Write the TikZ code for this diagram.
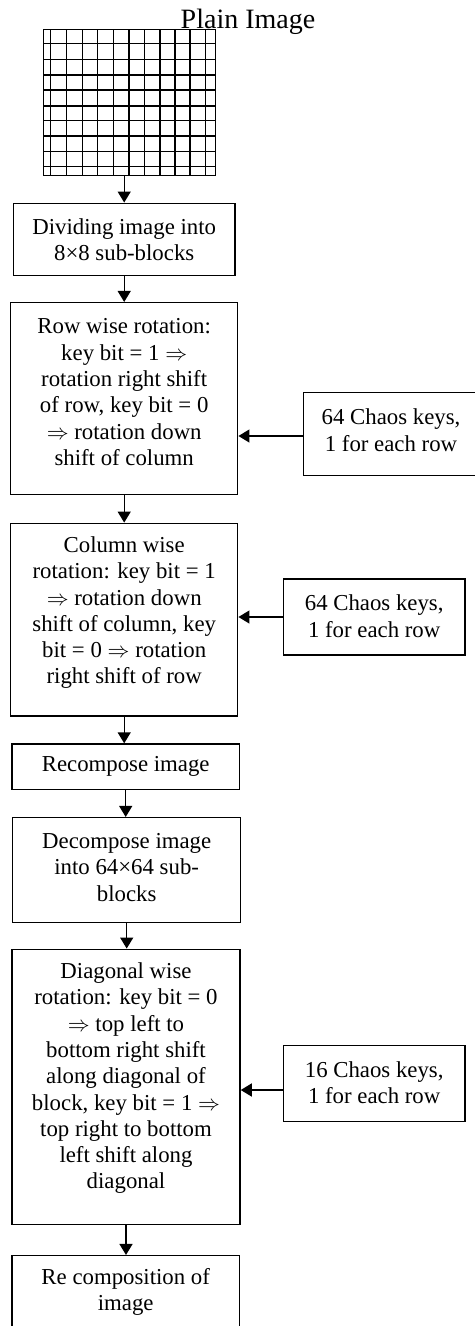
\documentclass[tikz,border=0pt]{standalone}
\usepackage{fontspec}
\setmainfont{Liberation Serif}
\usetikzlibrary{arrows.meta}
\begin{document}
\begin{tikzpicture}[x=0.5pt,y=-0.5pt,
  box/.style={draw,line width=0.75pt,inner sep=0pt},
  gridline/.style={line width=0.75pt},
  txt/.style={align=center,font=\fontsize{11.4}{13.15}\selectfont,inner sep=0pt},
  flow/.style={-{Triangle[length=5.5pt,width=6.5pt]},line width=0.7pt}]
\useasboundingbox (0,0) rectangle (475,1326);

% plain image drawn as a pixel grid
\node[box, minimum width=86.2pt, minimum height=73.2pt] (img) at (129.5,102.5) {};
\foreach \gx in {50.7,66.7,82.3,97.7,113.3,129,144.3,160,175,190,205.7}
  \draw[gridline] (\gx,29.3) -- (\gx,175.7);
\foreach \gy in {43.3,59.3,75,90,106,120.7,136,151.7,166.7}
  \draw[gridline] (43.3,\gy) -- (215.7,\gy);
\node[anchor=base, font=\fontsize{14}{16}\selectfont, inner sep=0pt] (title) at (248,28.3) {Plain Image};

% main processing chain
\node[box, minimum width=110.85pt, minimum height=36.2pt] (b1) at (124.2,239.5) {};
\node[txt] (t1) at (124.2,239.7) {Dividing image into\\8×8 sub-blocks};

\node[box, minimum width=113.5pt, minimum height=95.8pt] (b2) at (124.2,398.5) {};
\node[txt] (t2) at (124.2,392.3) {Row wise rotation:\\key bit = 1 $\Rightarrow$\\rotation right shift\\of row, key bit = 0\\$\Rightarrow$ rotation down\\shift of column};

\node[box, minimum width=113.5pt, minimum height=96.35pt] (b3) at (124.2,619.7) {};
\node[txt] (t3) at (124.2,612.7) {Column wise\\rotation: key bit = 1\\$\Rightarrow$ rotation down\\shift of column, key\\bit = 0 $\Rightarrow$ rotation\\right shift of row};

\node[box, minimum width=113.65pt, minimum height=22.65pt] (b4) at (125.7,766.7) {};
\node[txt] (t4) at (125.7,766.7) {Recompose image};

\node[box, minimum width=114pt, minimum height=52.3pt] (b5) at (126.7,870) {};
\node[txt] (t5) at (126.7,867.3) {Decompose image\\into 64×64 sub-\\blocks};

\node[box, minimum width=114pt, minimum height=137.5pt] (b6) at (126,1086.8) {};
\node[txt] (t6) at (126,1078.3) {Diagonal wise\\rotation: key bit = 0\\$\Rightarrow$ top left to\\bottom right shift\\along diagonal of\\block, key bit = 1 $\Rightarrow$\\top right to bottom\\left shift along\\diagonal};

\node[box, minimum width=113.65pt, minimum height=37.15pt] (b7) at (125.7,1292.85) {};
\node[txt] (t7) at (125.7,1291.7) {Re composition of\\image};

% key sources
\node[box, minimum width=95pt, minimum height=41.7pt] (s1) at (398.3,434) {};
\node[txt] (ts1) at (391,430.3) {64 Chaos keys,\\1 for each row};

\node[box, minimum width=90.85pt, minimum height=38pt] (s2) at (374.2,617) {};
\node[txt] (ts2) at (374.2,616.2) {64 Chaos keys,\\1 for each row};

\node[box, minimum width=90.85pt, minimum height=38pt] (s3) at (374.2,1083.7) {};
\node[txt] (ts3) at (374.2,1083) {16 Chaos keys,\\1 for each row};

% connectors
\draw[flow] (b1.north |- img.south) -- (b1.north);
\draw[flow] (b1.south) -- (b2.north);
\draw[flow] (b2.south) -- (b3.north);
\draw[flow] (b3.south) -- (b3.south |- b4.north);
\draw[flow] (b4.south) -- (b4.south |- b5.north);
\draw[flow] (b5.south) -- (b5.south |- b6.north);
\draw[flow] (b6.south) -- (b6.south |- b7.north);

\draw[flow] ([yshift=-1pt]s1.west) -- ([yshift=-1pt]s1.west -| b2.east);
\draw[flow] (s2.west) -- (s2.west -| b3.east);
\draw[flow] ([yshift=-3.15pt]s3.west) -- ([yshift=-3.15pt]s3.west -| b6.east);
\end{tikzpicture}
\end{document}
